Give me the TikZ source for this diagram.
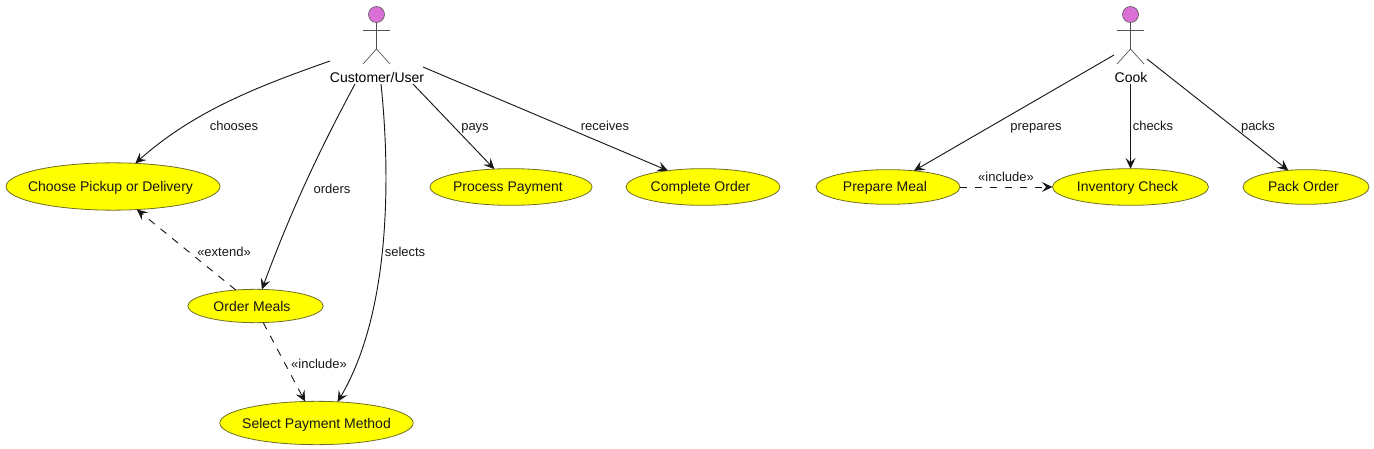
\documentclass[tikz,border=0pt]{standalone}
\usepackage{fontspec}
\setmainfont{Liberation Sans}
\usetikzlibrary{shapes.geometric,arrows.meta}
\definecolor{ink}{HTML}{181818}
\definecolor{orchidfill}{HTML}{DA70D6}
\definecolor{caseline}{HTML}{6E6E28}
\definecolor{caseyellow}{RGB}{255,255,0}
% text of a use case: no size of its own, baseline 5px under the centre; #1 = twice the sideways shift
\newcommand{\casetext}[2]{\smash{\raisebox{-3.75pt}{\makebox[0pt]{\hspace*{#1}#2}}}}
\tikzset{
  x=0.75pt,y=-0.75pt,
  usecase/.style={ellipse,draw=caseline,fill=caseyellow,line width=0.6pt,inner sep=0pt,outer sep=0pt,font=\fontsize{10.5pt}{12pt}\selectfont,text=ink},
  actorname/.style={inner sep=0pt,anchor=base,font=\fontsize{10.5pt}{12pt}\selectfont,text=black},
  edgelabel/.style={inner sep=0pt,anchor=base,font=\fontsize{9.75pt}{11pt}\selectfont,text=ink},
  link/.style={draw=ink,line width=0.7pt,-{Stealth[length=8pt,width=7.5pt,inset=3.2pt]}},
  dashlink/.style={link,dash pattern=on 5.6pt off 5.6pt},
  actorline/.style={draw=ink!75,line width=0.5pt},
  actorhead/.style={circle,draw=ink!70,fill=orchidfill,line width=0.5pt,minimum size=12pt,inner sep=0pt}
}
\begin{document}
\begin{tikzpicture}
\useasboundingbox (0,0) rectangle (1374,449);
% Customer actor
\node[actorhead] (custhead) at (376.5,14.5) {};
\coordinate (custhip) at (376.5,49);
\coordinate (custarmL) at (363,30);
\coordinate (custarmR) at (390,30);
\coordinate (custfootL) at (363,64);
\coordinate (custfootR) at (390,64);
\draw[actorline] (custhead) -- (custhip);
\draw[actorline] (custarmL) -- (custarmR);
\draw[actorline] (custfootL) -- (custhip) -- (custfootR);
\node[actorname] (cust) at (377,82.7) {Customer/User};
% Cook actor
\node[actorhead] (cookhead) at (1130.5,14.5) {};
\coordinate (cookhip) at (1130.5,49);
\coordinate (cookarmL) at (1117,30);
\coordinate (cookarmR) at (1144,30);
\coordinate (cookfootL) at (1117,64);
\coordinate (cookfootR) at (1144,64);
\draw[actorline] (cookhead) -- (cookhip);
\draw[actorline] (cookarmL) -- (cookarmR);
\draw[actorline] (cookfootL) -- (cookhip) -- (cookfootR);
\node[actorname] (cook) at (1131,82.7) {Cook};
% Use cases
\node[usecase,minimum width=160.5pt,minimum height=35.5pt] (pickup) at (113,186.5) {\casetext{-3.75pt}{Choose Pickup or Delivery}};
\node[usecase,minimum width=121.5pt,minimum height=27.5pt] (payment) at (511,187) {\casetext{-4.5pt}{Process Payment}};
\node[usecase,minimum width=115.5pt,minimum height=27.5pt] (complete) at (703,187) {\casetext{-3.75pt}{Complete Order}};
\node[usecase,minimum width=108pt,minimum height=26pt] (prepare) at (888,187) {\casetext{-4.5pt}{Prepare Meal}};
\node[usecase,minimum width=117pt,minimum height=27.5pt] (inventory) at (1130.5,187) {\casetext{-4.5pt}{Inventory Check}};
\node[usecase,minimum width=94.5pt,minimum height=26pt] (pack) at (1306,187) {\casetext{-3.75pt}{Pack Order}};
\node[usecase,minimum width=101.5pt,minimum height=25pt] (meals) at (255.5,306) {\casetext{-5.25pt}{Order Meals}};
\node[usecase,minimum width=145pt,minimum height=32.5pt] (method) at (316.5,423) {\casetext{0pt}{Select Payment Method}};
% Start points
\coordinate (s1) at (330,61);
\coordinate (s2) at (355,84);
\coordinate (s3) at (381,84);
\coordinate (s4) at (413,84);
\coordinate (s5) at (423,67);
\coordinate (s6) at (1114,55);
\coordinate (s7) at (1130.5,84);
\coordinate (s8) at (1147,59);
% Connectors
\draw[link] (s1) .. controls (262,85) and (195,110) .. (pickup.46);
\draw[link] (s2) .. controls (325,140) and (295,200) .. (meals.69);
\draw[link] (s3) .. controls (390,170) and (392,310) .. (method.45);
\draw[link] (s4) -- (payment.133);
\draw[link] (s5) -- (complete.155);
\draw[link] (s6) -- (prepare.32);
\draw[link] (s7) -- (inventory.90);
\draw[link] (s8) -- (pack.137);
\draw[dashlink] (meals.141) -- (pickup.-44);
\draw[dashlink] (meals.-65) -- (method.118);
\draw[dashlink] (prepare.0) -- (inventory.180);
% Labels
\node[edgelabel] (lchooses) at (234,130.7) {chooses};
\node[edgelabel] (lorders) at (332,193.7) {orders};
\node[edgelabel] (lselects) at (405,256.7) {selects};
\node[edgelabel] (lpays) at (475,130.7) {pays};
\node[edgelabel] (lreceives) at (605,130.7) {receives};
\node[edgelabel] (lprepares) at (1036,130.7) {prepares};
\node[edgelabel] (lchecks) at (1153,130.7) {checks};
\node[edgelabel] (lpacks) at (1258,130.7) {packs};
\node[edgelabel] (lextend) at (224,256.7) {«extend»};
\node[edgelabel] (linclude) at (319,368.7) {«include»};
\node[edgelabel] (linclude2) at (1006,181.7) {«include»};
\end{tikzpicture}
\end{document}
